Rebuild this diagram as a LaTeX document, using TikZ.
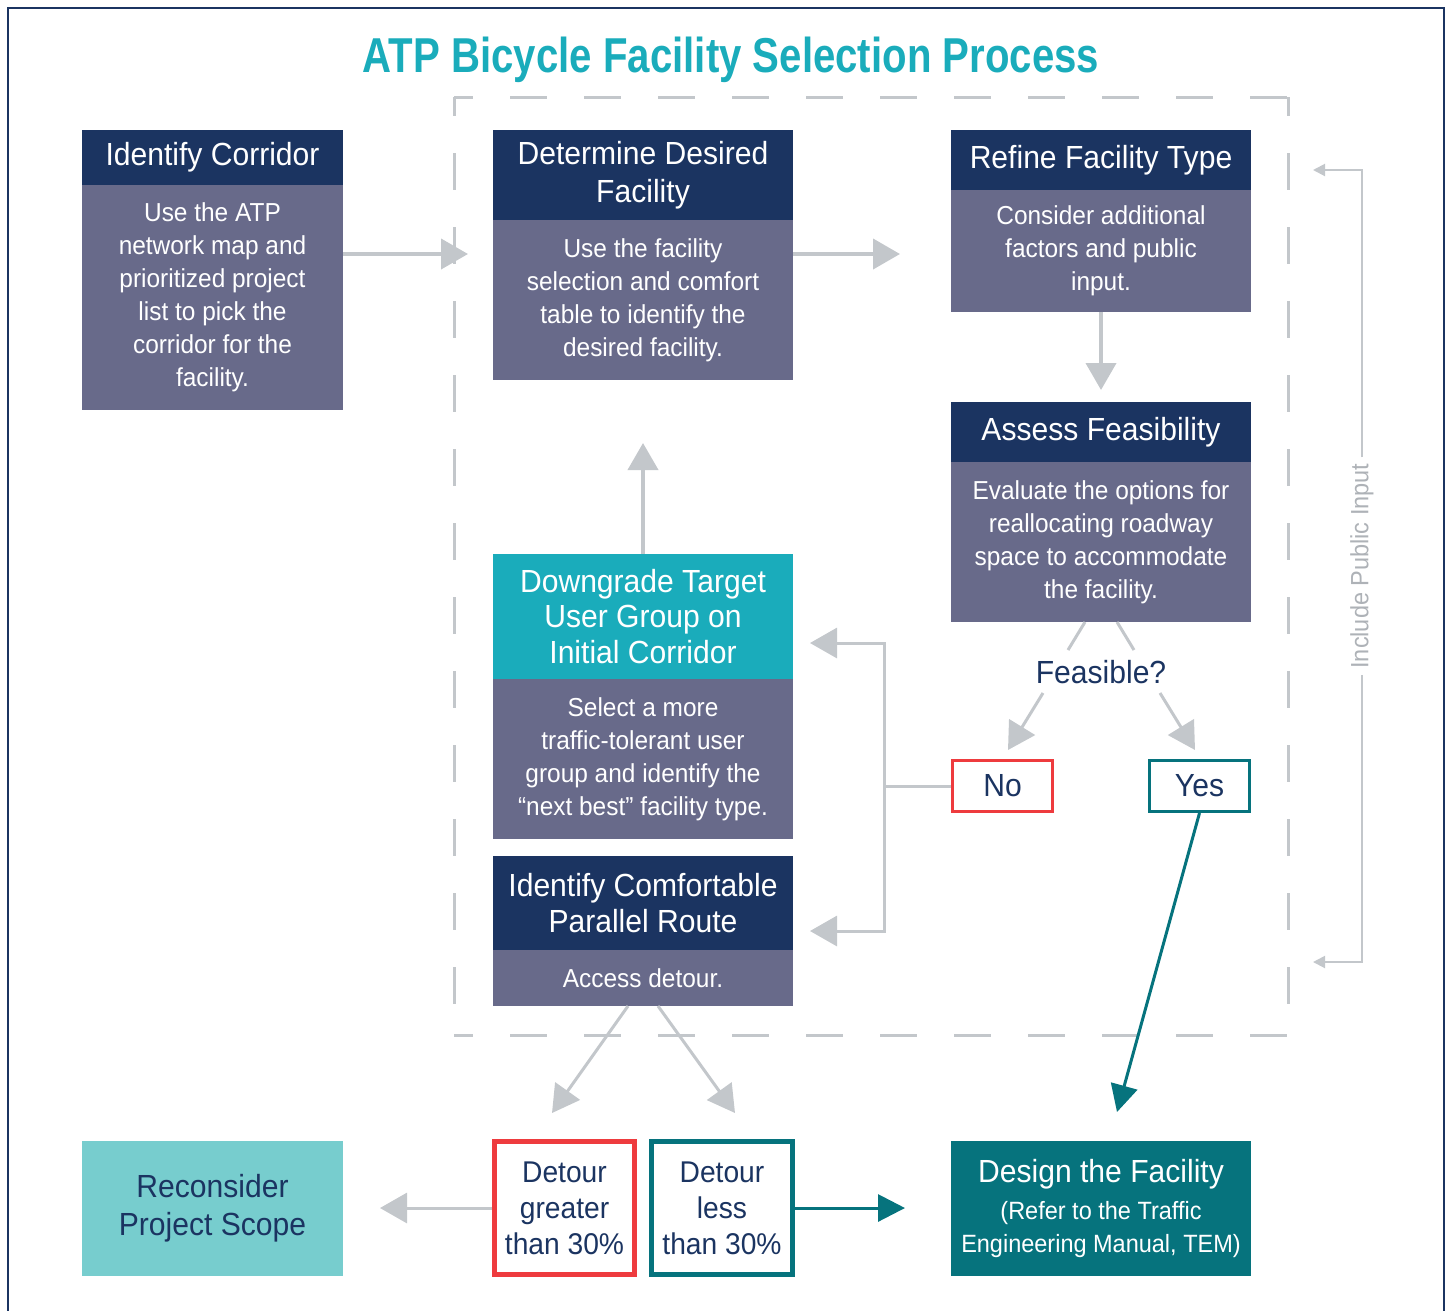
\documentclass[tikz,border=0pt]{standalone}
\usepackage{fontspec}
\setmainfont{Liberation Sans}[FakeStretch=0.94]
\newfontfamily\titlefont{Liberation Sans}[FakeStretch=0.82]
\usetikzlibrary{arrows.meta}

\definecolor{navy}{HTML}{1B3461}
\definecolor{slate}{HTML}{686A8A}
\definecolor{cyanhd}{HTML}{1AACBB}
\definecolor{tealdk}{HTML}{06737D}
\definecolor{teallt}{HTML}{77CDCE}
\definecolor{greyln}{HTML}{C3C7CB}
\definecolor{greytx}{HTML}{AEB2B7}
\definecolor{redbx}{HTML}{EE3B3E}

\tikzset{
  boxbase/.style={anchor=north west, inner sep=0pt, outer sep=0pt, align=center, text=white},
  hdr/.style={boxbase, fill=navy, font=\fontsize{32}{38}\selectfont},
  hdrcyan/.style={boxbase, fill=cyanhd, font=\fontsize{32}{35.5}\selectfont},
  bodybox/.style={boxbase, fill=slate, font=\fontsize{26}{33}\selectfont},
  outline/.style={inner sep=0pt, align=center, text=navy, fill=white, line width=3pt,
                  font=\fontsize{32}{36}\selectfont},
  flow/.style={draw=greyln, line width=4pt, -{Triangle[length=27pt,width=30pt]}},
  plainln/.style={draw=greyln, line width=4pt},
  tealflow/.style={draw=tealdk, line width=3pt, -{Triangle[length=27pt,width=27pt]}},
  thinflow/.style={draw=greyln, line width=2pt, -{Triangle[length=12pt,width=12pt]}},
  dashside/.style={draw=greyln, line width=3pt, dash pattern=on 37pt off 37pt, dash phase=18pt},
}

\begin{document}
\begin{tikzpicture}[x=1pt,y=-1pt]
\useasboundingbox (0,0) rectangle (1450,1310);

% outer frame (open at the bottom edge of the page)
\draw[navy, line width=2.5pt] (8,1340) -- (8,8) -- (1444,8) -- (1444,1340);

% title
\node[text=cyanhd, font=\titlefont\bfseries\fontsize{49}{55}\selectfont] (title) at (731,60)
  {ATP Bicycle Facility Selection Process};

% dashed process frame
\coordinate (d1) at (454,97);
\coordinate (d2) at (1288,97);
\coordinate (d3) at (1288,1035);
\coordinate (d4) at (454,1035);
\draw[dashside] (d1) -- (d2);
\draw[dashside] (d2) -- (d3);
\draw[dashside] (d4) -- (d3);
\draw[dashside] (d1) -- (d4);

% Identify Corridor
\node[hdr, minimum width=261pt, minimum height=55pt] (ich) at (82,130) {Identify Corridor};
\node[bodybox, minimum width=261pt, minimum height=225pt] (icb) at (82,185)
  {Use the ATP\\network map and\\prioritized project\\list to pick the\\corridor for the\\facility.};

% Determine Desired Facility
\node[hdr, minimum width=300pt, minimum height=90pt] (ddh) at (493,130) {Determine Desired\\Facility};
\node[bodybox, minimum width=300pt, minimum height=160pt] (ddb) at (493,220)
  {Use the facility\\selection and comfort\\table to identify the\\desired facility.};

% Refine Facility Type
\node[hdr, minimum width=300pt, minimum height=60pt] (rfh) at (951,130) {Refine Facility Type};
\node[bodybox, minimum width=300pt, minimum height=122pt] (rfb) at (951,190)
  {Consider additional\\factors and public\\input.};

% Assess Feasibility
\node[hdr, minimum width=300pt, minimum height=60pt] (afh) at (951,402) {Assess Feasibility};
\node[bodybox, minimum width=300pt, minimum height=160pt] (afb) at (951,462)
  {Evaluate the options for\\reallocating roadway\\space to accommodate\\the facility.};

% Downgrade Target User Group
\node[hdrcyan, minimum width=300pt, minimum height=125pt] (dgh) at (493,554)
  {Downgrade Target\\User Group on\\Initial Corridor};
\node[bodybox, minimum width=300pt, minimum height=160pt] (dgb) at (493,679)
  {Select a more\\traffic-tolerant user\\group and identify the\\“next best” facility type.};

% Identify Comfortable Parallel Route
\node[hdr, minimum width=300pt, minimum height=94pt, font=\fontsize{32}{36}\selectfont] (prh) at (493,856)
  {Identify Comfortable\\Parallel Route};
\node[bodybox, minimum width=300pt, minimum height=56pt] (prb) at (493,950) {Access detour.};

% decision
\node[text=navy, font=\fontsize{32}{36}\selectfont, inner sep=0pt] (feas) at (1101,672) {Feasible?};
\node[outline, draw=redbx, minimum width=100pt, minimum height=51pt] (no) at (1002.5,786) {No};
\node[outline, draw=tealdk, minimum width=100pt, minimum height=51pt] (yes) at (1199.5,786) {Yes};

% detour outcomes
\node[outline, draw=redbx, line width=5pt, minimum width=140pt, minimum height=133pt,
      font=\fontsize{30}{36}\selectfont] (dgt) at (564.5,1208)
  {Detour\\greater\\than 30\%};
\node[outline, draw=tealdk, line width=5pt, minimum width=141pt, minimum height=133pt,
      font=\fontsize{30}{36}\selectfont] (dlt) at (722,1208)
  {Detour\\less\\than 30\%};

% end boxes
\node[boxbase, fill=teallt, text=navy, minimum width=261pt, minimum height=135pt,
      font=\fontsize{32}{38}\selectfont] (rc) at (82,1141) {Reconsider\\Project Scope};
\node[boxbase, fill=tealdk, minimum width=300pt, minimum height=135pt,
      font=\fontsize{25}{33}\selectfont] (df) at (951,1141)
  {{\fontsize{32}{38}\selectfont Design the Facility}\\[4pt]
   (Refer to the Traffic\\
   Engineering Manual, TEM)};

% main flow arrows
\coordinate (t1) at (468,254);
\coordinate (t2) at (900,254);
\coordinate (t3) at (1101,390);
\coordinate (t4) at (643,443);
\draw[flow] (icb.east |- t1) -- (t1);
\draw[flow] (ddb.east |- t2) -- (t2);
\draw[flow] (rfb.south) -- (t3);
\draw[flow] (dgh.north) -- (t4);

% assessment to decision
\coordinate (a1) at (1085,622);
\coordinate (a2) at (1068,650);
\coordinate (a3) at (1117,622);
\coordinate (a4) at (1134,650);
\draw[plainln, line width=3pt] (a1) -- (a2);
\draw[plainln, line width=3pt] (a3) -- (a4);
\coordinate (f1) at (1043,693);
\coordinate (f2) at (1008,750);
\coordinate (f3) at (1160,693);
\coordinate (f4) at (1195,750);
\draw[flow, line width=3pt] (f1) -- (f2);
\draw[flow, line width=3pt] (f3) -- (f4);

% "No" branches back to the two alternatives
\coordinate (nb) at (884,786);
\coordinate (nt) at (884,643);
\coordinate (nd) at (884,931);
\coordinate (nt2) at (810,643);
\coordinate (nd2) at (810,931);
\draw[plainln, line width=3pt] (no.west) -- (nb);
\draw[flow, line width=3pt] (nb) -- (nt) -- (nt2);
\draw[flow, line width=3pt] (nb) -- (nd) -- (nd2);

% "Yes" leads to design
\coordinate (yt) at (1117,1112);
\draw[tealflow] (yes.south) -- (yt);

% detour split
\coordinate (p1) at (628,1006);
\coordinate (p2) at (552,1113);
\coordinate (p3) at (658,1006);
\coordinate (p4) at (735,1113);
\draw[flow, line width=3pt] (p1) -- (p2);
\draw[flow, line width=3pt] (p3) -- (p4);

\coordinate (r1) at (380,1208);
\coordinate (r2) at (905,1208);
\draw[flow, line width=3pt] (dgt.west) -- (r1);
\draw[tealflow] (dlt.east) -- (r2);

% public input loop
\coordinate (pa) at (1362,170);
\coordinate (pb) at (1362,962);
\coordinate (pa2) at (1313,170);
\coordinate (pb2) at (1313,962);
\node[rotate=90, text=greytx, font=\fontsize{25}{30}\selectfont, fill=white, inner sep=6pt] (pin) at (1362,566)
  {Include Public Input};
\draw[thinflow] (pin.east) -- (pa) -- (pa2);
\draw[thinflow] (pin.west) -- (pb) -- (pb2);

\end{tikzpicture}
\end{document}
